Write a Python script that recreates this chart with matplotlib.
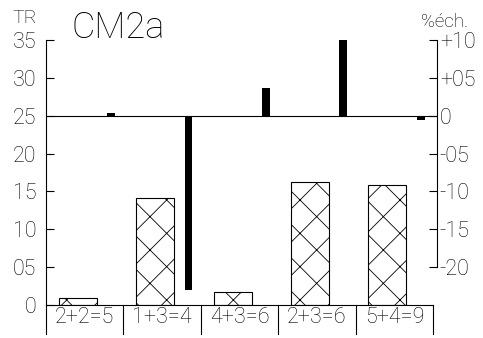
import numpy as np
import matplotlib
matplotlib.use('Agg')
import matplotlib.pyplot as plt

# data
cats = ['2+2=5', '1+3=4', '4+3=6', '2+3=6', '5+4=9']
tr = [0.9, 14.1, 1.7, 16.2, 15.9]          # hatched bars, left axis (TR)
ech = [0.3, -23.0, 3.7, 10.5, -0.6]        # black bars, right axis (% ech.)
left_ticks = [0, 5, 10, 15, 20, 25, 30, 35]
left_labels = ['0', '05', '10', '15', '20', '25', '30', '35']
right_ticks = [-20, -15, -10, -5, 0, 5, 10]
right_labels = ['-20', '-15', '-10', '-05', '0', '+05', '+10']

plt.rcParams['font.family'] = ['Roboto', 'DejaVu Sans']
plt.rcParams['font.weight'] = 'light'
plt.rcParams['hatch.linewidth'] = 0.6
plt.rcParams['hatch.color'] = '#555555'

fig = plt.figure(figsize=(4.83, 3.38), dpi=100)
W, H = 483, 338
ax = fig.add_axes([46 / W, (H - 305) / H, (437 - 46) / W, 265 / H])
ax2 = ax.twinx()

x = np.arange(len(cats))
ax.bar(x - 0.09, tr, width=0.49, facecolor='white', edgecolor='black',
       linewidth=0.8, hatch='x', zorder=2)
ax2.bar(x + 0.34, ech, width=0.1, color='black', zorder=3)

ax.set_xlim(-0.5, 4.55)
ax.set_ylim(0, 35)
ax2.set_ylim(-25, 10)

# reference line at 25 (0 on right scale)
ax.axhline(25, color='black', lw=0.8, zorder=1)

ax.set_xticks([])
ax.set_yticks(left_ticks)
ax.set_yticklabels(left_labels)
ax2.set_yticks(right_ticks)
ax2.set_yticklabels(right_labels)
ax.tick_params(axis='y', direction='in', length=6, width=0.8, pad=7,
               labelsize=15.5, colors='black')
ax2.tick_params(axis='y', direction='in', length=6, width=0.8, pad=2,
                labelsize=15.5, colors='black')

for a in (ax, ax2):
    a.spines['top'].set_visible(False)
ax.spines['right'].set_visible(False)
ax2.spines['left'].set_visible(False)
ax2.spines['bottom'].set_visible(False)
ax2.spines['right'].set_bounds(-20, 10)
ax.spines['bottom'].set_bounds(-0.5, 4.5)
for s in ('left', 'bottom'):
    ax.spines[s].set_linewidth(0.8)
ax2.spines['right'].set_linewidth(0.8)

# label boxes under the axis
ax.plot([-0.5, -0.5], [0, -3.8], color='black', lw=0.8, clip_on=False)
for b in np.arange(0.5, len(cats), 1.0):
    ax.plot([b, b], [0, -3.8], color='black', lw=0.8, clip_on=False)
for i, c in enumerate(cats):
    ax.text(i, -1.7, c, ha='center', va='center', fontsize=15.5,
            color='black', clip_on=False)

fig.text(12 / W, 1 - 23 / H, 'TR', fontsize=14, color='black')
fig.text(71 / W, 1 - 38 / H, 'CM2a', fontsize=26, color='black')
fig.text(421 / W, 1 - 27 / H, '%éch.', fontsize=13.5, color='black')

plt.savefig('out.png', dpi=100)
